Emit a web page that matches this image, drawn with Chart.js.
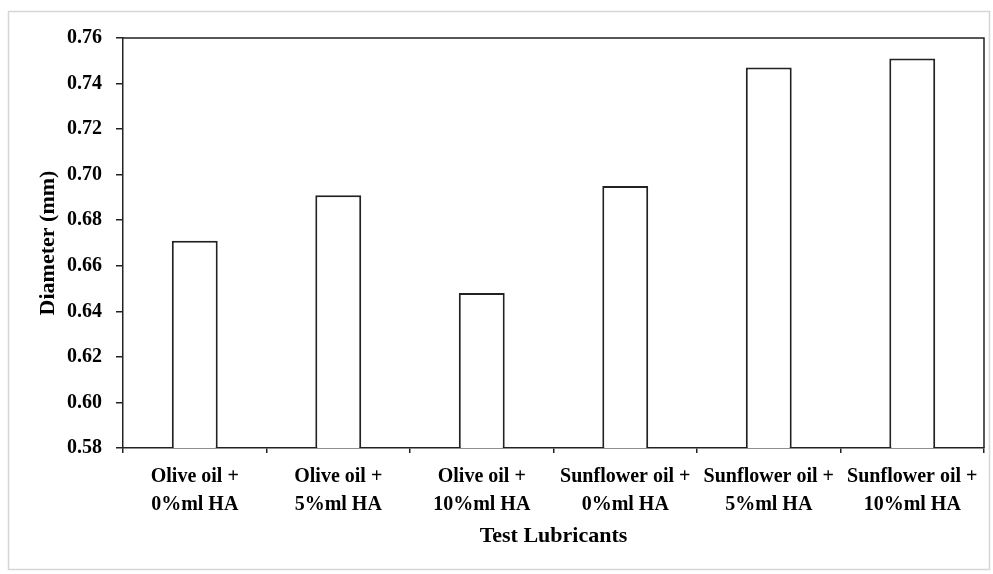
<!DOCTYPE html>
<html>
<head>
<meta charset="utf-8">
<script src="https://cdn.jsdelivr.net/npm/chart.js@4.4.1/dist/chart.umd.min.js"></script>
<style>
  html, body { margin: 0; padding: 0; background: #fff; }
  #wrap { position: relative; width: 993px; height: 574px; }
</style>
</head>
<body>
<div id="wrap"><canvas id="chart_canvas" width="993" height="574"></canvas></div>
<script>
const categories = [
  ['Olive oil +', '0%ml HA'],
  ['Olive oil +', '5%ml HA'],
  ['Olive oil +', '10%ml HA'],
  ['Sunflower oil +', '0%ml HA'],
  ['Sunflower oil +', '5%ml HA'],
  ['Sunflower oil +', '10%ml HA']
];
const diameterMm = [0.671, 0.691, 0.648, 0.695, 0.747, 0.751];
const yMin = 0.58;
const yMax = 0.76;
const yStep = 0.02;

const serif = "'Liberation Serif', 'Times New Roman', serif";
const tickFont = { family: serif, size: 20, weight: 'bold', lineHeight: 1.4 };
const titleFont = { family: serif, size: 22, weight: 'bold' };

// frame round the whole figure, and top/right edges of the plot box
const framePlugin = {
  id: 'frames',
  afterDraw(chart) {
    const ctx = chart.ctx;
    const a = chart.chartArea;
    ctx.save();
    ctx.strokeStyle = '#d6d6d6';
    ctx.lineWidth = 1.5;
    ctx.strokeRect(8.5, 11.5, 981, 558);
    ctx.strokeStyle = '#222';
    ctx.lineWidth = 1.5;
    ctx.beginPath();
    ctx.moveTo(a.left, a.top);
    ctx.lineTo(a.right, a.top);
    ctx.lineTo(a.right, a.bottom);
    ctx.stroke();
    ctx.restore();
  }
};

let ctx = document.getElementById('chart_canvas');
let diameterChart = new Chart(ctx, { // eslint-disable-line no-unused-vars, no-undef
  type: 'bar',
  data: {
    labels: categories,
    datasets: [{
      label: 'Diameter (mm)',
      data: diameterMm,
      backgroundColor: '#ffffff',
      borderColor: '#222222',
      borderWidth: 2,
      barPercentage: 0.32,
      categoryPercentage: 1.0
    }]
  },
  options: {
    responsive: false,
    animation: false,
    layout: { padding: { left: 0, top: 38, right: 9, bottom: 0 } },
    plugins: {
      legend: { display: false },
      tooltip: { enabled: false }
    },
    scales: {
      x: {
        border: { display: true, color: '#222', width: 1.5 },
        grid: { drawOnChartArea: false, drawTicks: true, tickLength: 5, color: '#222', lineWidth: 1.5 },
        ticks: { color: '#000', font: tickFont, padding: 10, maxRotation: 0, autoSkip: false },
        title: { display: true, text: 'Test Lubricants', color: '#000', font: titleFont, padding: { top: 0, bottom: 24 } },
        afterFit(scale) { scale.height = 126; }
      },
      y: {
        min: yMin,
        max: yMax,
        border: { display: true, color: '#222', width: 1.5 },
        grid: { drawOnChartArea: false, drawTicks: true, tickLength: 7, color: '#222', lineWidth: 1.5 },
        ticks: {
          stepSize: yStep,
          color: '#000',
          font: { family: serif, size: 20, weight: 'bold' },
          padding: 14,
          callback: (v) => v.toFixed(2)
        },
        title: { display: true, text: 'Diameter (mm)', color: '#000', font: titleFont, padding: { top: 35, bottom: 0 } },
        afterFit(scale) { scale.width = 123; }
      }
    }
  },
  plugins: [framePlugin]
});
</script>
</body>
</html>
